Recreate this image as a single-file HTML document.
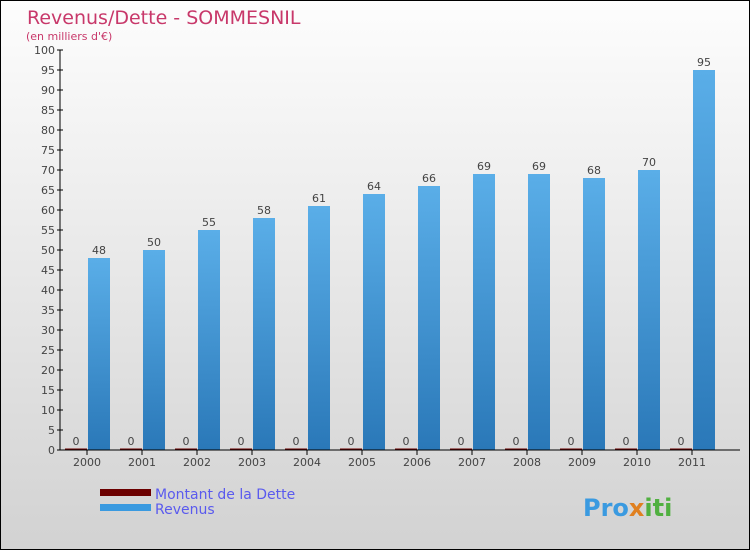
<!DOCTYPE html>
<html><head><meta charset="utf-8"><style>
body{margin:0}
#c{width:750px;height:550px;position:relative;box-sizing:border-box;border:1px solid #000;background:linear-gradient(#fdfdfd,#d2d2d2);font-family:"DejaVu Sans","Liberation Sans",sans-serif;overflow:hidden}
</style></head><body>
<div id="c">
<svg width="750" height="550" id="s" style="position:absolute;left:-1px;top:-1px">
<defs><linearGradient id="g" x1="0" x2="0" y1="0" y2="1"><stop offset="0" stop-color="#5aaee8"/><stop offset="1" stop-color="#2a78b8"/></linearGradient></defs>
<text x="27" y="24" font-size="19" fill="#c8386a">Revenus/Dette - SOMMESNIL</text>
<text x="26" y="40" font-size="11" fill="#c8386a">(en milliers d'€)</text>
<g id="plot"></g>
<rect x="100" y="489" width="51" height="7" fill="#6b0000"/>
<text x="155" y="499" font-size="14" fill="#5a5aee">Montant de la Dette</text>
<rect x="100" y="504" width="51" height="7" fill="#3a9ae0"/>
<text x="155" y="514" font-size="14" fill="#5a5aee">Revenus</text>
<text x="583" y="516" font-size="24" font-weight="bold" fill="#3a9ae0">Pro<tspan fill="#e08020">x</tspan><tspan fill="#50b040">iti</tspan></text>
</svg></div>
<script>
const years=["2000","2001","2002","2003","2004","2005","2006","2007","2008","2009","2010","2011"];
const dette=[0,0,0,0,0,0,0,0,0,0,0,0];
const revenus=[48,50,55,58,61,64,66,69,69,68,70,95];
const yTicks=[0,5,10,15,20,25,30,35,40,45,50,55,60,65,70,75,80,85,90,95,100];
const NS="http://www.w3.org/2000/svg",p=document.getElementById('plot');
const y=v=>450-v*4, x=i=>87+i*55;
function mk(t,a){const e=document.createElementNS(NS,t);for(const k in a)e.setAttribute(k,a[k]);p.appendChild(e);return e;}
yTicks.forEach(v=>{mk('line',{x1:57,x2:63,y1:y(v),y2:y(v),stroke:'#000'});
const t=mk('text',{x:55,y:y(v)+4,'font-size':11,'text-anchor':'end',fill:'#444'});t.textContent=v;

});
years.forEach((yr,i)=>{
const bd=mk('rect',{x:x(i)-22,y:y(dette[i])-1.5,width:22,height:dette[i]*4+1.5,fill:'#6b0000'});


const br=mk('rect',{x:x(i)+1,y:y(revenus[i]),width:22,height:revenus[i]*4,fill:'url(#g)'});


const l1=mk('text',{x:x(i)-11,y:y(dette[i])-5,'font-size':11,'text-anchor':'middle',fill:'#444'});l1.textContent=dette[i];


const l2=mk('text',{x:x(i)+12,y:y(revenus[i])-4,'font-size':11,'text-anchor':'middle',fill:'#444'});l2.textContent=revenus[i];


mk('line',{x1:x(i),x2:x(i),y1:450,y2:455,stroke:'#000'});
const xl=mk('text',{x:x(i),y:466,'font-size':11,'text-anchor':'middle',fill:'#444'});xl.textContent=yr;

});
mk('line',{x1:60,x2:60,y1:50,y2:450,stroke:'#000'});
mk('line',{x1:60,x2:740,y1:450,y2:450,stroke:'#000'});
</script></body></html>
